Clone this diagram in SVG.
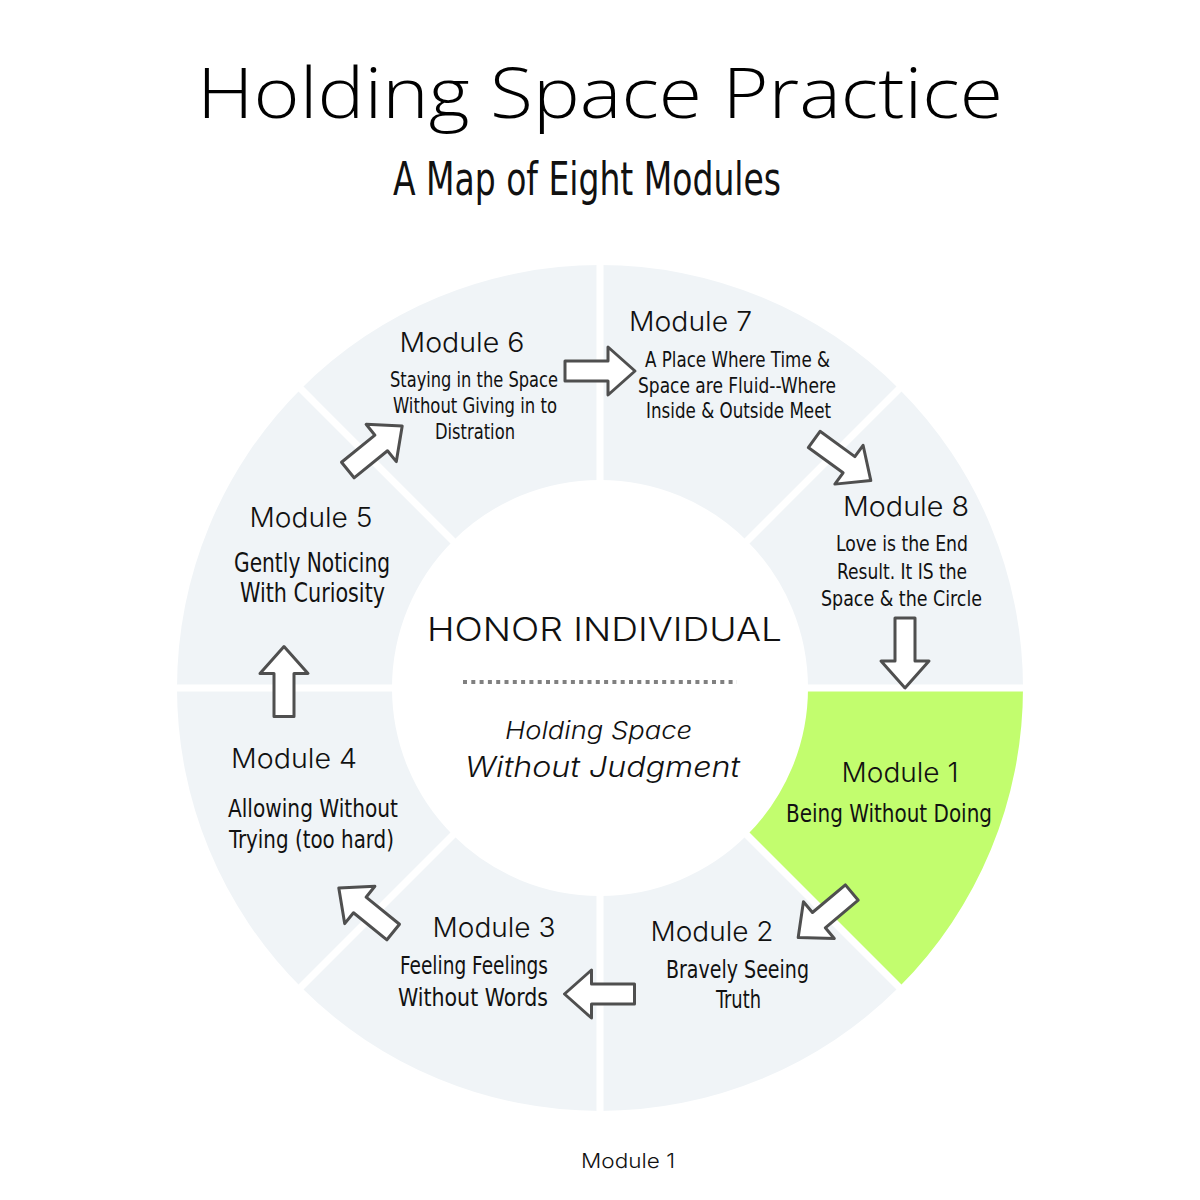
<svg xmlns="http://www.w3.org/2000/svg" xmlns:xlink="http://www.w3.org/1999/xlink" width="1200" height="1200" viewBox="0 0 1200 1200">
<style>
.sec{fill:#f0f4f7}
.green{fill:#c2fd6e}
.gap{stroke:#ffffff;stroke-width:7;fill:none}
.mod{font-family:"Inter","Noto Sans",sans-serif;font-weight:300;font-size:27px;fill:#111;text-anchor:middle}
.hand{font-family:"Liberation Sans Narrow","DejaVu Sans Condensed","Liberation Sans",sans-serif;font-stretch:condensed;fill:#111;text-anchor:middle}
.title{font-family:"Open Sans","Noto Sans",sans-serif;font-weight:300;fill:#000;text-anchor:middle}
.ctr{font-family:"Inter","Noto Sans",sans-serif;font-weight:300;fill:#111;text-anchor:middle}
.arrow{fill:#ffffff;stroke:#4f4f4f;stroke-width:3;stroke-linejoin:round}
</style>
<defs>
<path id="arr" d="M-35,-10 L8,-10 L8,-24 L35,0 L8,24 L8,10 L-35,10 Z"/>
</defs>
<rect width="1200" height="1200" fill="#ffffff"/>

<g id="title">
<text class="title" x="600" y="118" font-size="70" textLength="806" lengthAdjust="spacingAndGlyphs">Holding Space Practice</text>
<text class="hand" x="587" y="195" font-size="46" textLength="388" lengthAdjust="spacingAndGlyphs">A Map of Eight Modules</text>
</g>

<g id="module-1">
<path class="green" d="M1023,688 A423,423 0 0 1 899.1,987.1 L747.1,835.1 A208,208 0 0 0 808,688 Z"/>
<text class="mod" x="900" y="782" textLength="117" lengthAdjust="spacingAndGlyphs">Module 1</text>
<text class="hand" x="889" y="822" font-size="25" textLength="206" lengthAdjust="spacingAndGlyphs">Being Without Doing</text>
</g>
<g id="module-2">
<path class="sec" d="M899.1,987.1 A423,423 0 0 1 600,1111 L600,896 A208,208 0 0 0 747.1,835.1 Z"/>
<text class="mod" x="712" y="941" textLength="123" lengthAdjust="spacingAndGlyphs">Module 2</text>
<text class="hand" x="737.5" y="978" font-size="24" textLength="143" lengthAdjust="spacingAndGlyphs">Bravely Seeing</text>
<text class="hand" x="738.5" y="1008" font-size="24" textLength="45" lengthAdjust="spacingAndGlyphs">Truth</text>
</g>
<g id="module-3">
<path class="sec" d="M600,1111 A423,423 0 0 1 300.9,987.1 L452.9,835.1 A208,208 0 0 0 600,896 Z"/>
<text class="mod" x="494" y="937" textLength="123" lengthAdjust="spacingAndGlyphs">Module 3</text>
<text class="hand" x="474" y="974" font-size="25" textLength="148" lengthAdjust="spacingAndGlyphs">Feeling Feelings</text>
<text class="hand" x="473" y="1006" font-size="25" textLength="150" lengthAdjust="spacingAndGlyphs">Without Words</text>
</g>
<g id="module-4">
<path class="sec" d="M300.9,987.1 A423,423 0 0 1 177,688 L392,688 A208,208 0 0 0 452.9,835.1 Z"/>
<text class="mod" x="294" y="768" textLength="126" lengthAdjust="spacingAndGlyphs">Module 4</text>
<text class="hand" x="313" y="817" font-size="25" textLength="170" lengthAdjust="spacingAndGlyphs">Allowing Without</text>
<text class="hand" x="311.5" y="848" font-size="25" textLength="165" lengthAdjust="spacingAndGlyphs">Trying (too hard)</text>
</g>
<g id="module-5">
<path class="sec" d="M177,688 A423,423 0 0 1 300.9,388.9 L452.9,540.9 A208,208 0 0 0 392,688 Z"/>
<text class="mod" x="311" y="527" textLength="123" lengthAdjust="spacingAndGlyphs">Module 5</text>
<text class="hand" x="312" y="572" font-size="27" textLength="156" lengthAdjust="spacingAndGlyphs">Gently Noticing</text>
<text class="hand" x="312.5" y="602" font-size="27" textLength="145" lengthAdjust="spacingAndGlyphs">With Curiosity</text>
</g>
<g id="module-6">
<path class="sec" d="M300.9,388.9 A423,423 0 0 1 600,265 L600,480 A208,208 0 0 0 452.9,540.9 Z"/>
<text class="mod" x="462" y="352" textLength="125" lengthAdjust="spacingAndGlyphs">Module 6</text>
<text class="hand" x="474" y="387" font-size="21" textLength="168" lengthAdjust="spacingAndGlyphs">Staying in the Space</text>
<text class="hand" x="475" y="413" font-size="21" textLength="164" lengthAdjust="spacingAndGlyphs">Without Giving in to</text>
<text class="hand" x="475" y="439" font-size="21" textLength="80" lengthAdjust="spacingAndGlyphs">Distration</text>
</g>
<g id="module-7">
<path class="sec" d="M600,265 A423,423 0 0 1 899.1,388.9 L747.1,540.9 A208,208 0 0 0 600,480 Z"/>
<text class="mod" x="690.5" y="331" textLength="123" lengthAdjust="spacingAndGlyphs">Module 7</text>
<text class="hand" x="737.5" y="367" font-size="21" textLength="185" lengthAdjust="spacingAndGlyphs">A Place Where Time &amp;</text>
<text class="hand" x="737" y="393" font-size="21" textLength="198" lengthAdjust="spacingAndGlyphs">Space are Fluid--Where</text>
<text class="hand" x="738.5" y="418" font-size="21" textLength="185" lengthAdjust="spacingAndGlyphs">Inside &amp; Outside Meet</text>
</g>
<g id="module-8">
<path class="sec" d="M899.1,388.9 A423,423 0 0 1 1023,688 L808,688 A208,208 0 0 0 747.1,540.9 Z"/>
<text class="mod" x="906" y="516" textLength="126" lengthAdjust="spacingAndGlyphs">Module 8</text>
<text class="hand" x="902" y="551" font-size="22" textLength="132" lengthAdjust="spacingAndGlyphs">Love is the End</text>
<text class="hand" x="902" y="579" font-size="22" textLength="130" lengthAdjust="spacingAndGlyphs">Result. It IS the</text>
<text class="hand" x="901.5" y="606" font-size="22" textLength="161" lengthAdjust="spacingAndGlyphs">Space &amp; the Circle</text>
</g>

<g id="gaps">
<line class="gap" x1="805" y1="688" x2="1027" y2="688"/>
<line class="gap" x1="745" y1="833" x2="902" y2="990"/>
<line class="gap" x1="600" y1="893" x2="600" y2="1115"/>
<line class="gap" x1="455" y1="833" x2="298" y2="990"/>
<line class="gap" x1="395" y1="688" x2="173" y2="688"/>
<line class="gap" x1="455" y1="543" x2="298" y2="386"/>
<line class="gap" x1="600" y1="483" x2="600" y2="261"/>
<line class="gap" x1="745" y1="543" x2="902" y2="386"/>
</g>

<g id="center">
<text class="ctr" x="604.5" y="641" font-size="33" textLength="355" lengthAdjust="spacingAndGlyphs">HONOR INDIVIDUAL</text>
<line x1="463" y1="682" x2="737" y2="682" stroke="#808080" stroke-width="4" stroke-dasharray="4 4.3"/>
<text class="ctr" x="598.5" y="739" font-size="24" font-style="italic" textLength="187" lengthAdjust="spacingAndGlyphs">Holding Space</text>
<text class="ctr" x="602.5" y="777" font-size="28" font-style="italic" textLength="275" lengthAdjust="spacingAndGlyphs">Without Judgment</text>
</g>

<g id="connectors">
<use xlink:href="#arr" class="arrow" transform="translate(600,371)"/>
<use xlink:href="#arr" class="arrow" transform="translate(842.5,460) rotate(36)"/>
<use xlink:href="#arr" class="arrow" transform="translate(905,653) rotate(90)"/>
<use xlink:href="#arr" class="arrow" transform="translate(825,915) rotate(140)"/>
<use xlink:href="#arr" class="arrow" transform="translate(599.5,994) rotate(180)"/>
<use xlink:href="#arr" class="arrow" transform="translate(366,910) rotate(219)"/>
<use xlink:href="#arr" class="arrow" transform="translate(284,681.5) rotate(-90)"/>
<use xlink:href="#arr" class="arrow" transform="translate(375,448) rotate(-39)"/>
</g>

<g id="footer">
<text class="ctr" x="628" y="1168" font-size="20" textLength="94" lengthAdjust="spacingAndGlyphs">Module 1</text>
</g>
</svg>
